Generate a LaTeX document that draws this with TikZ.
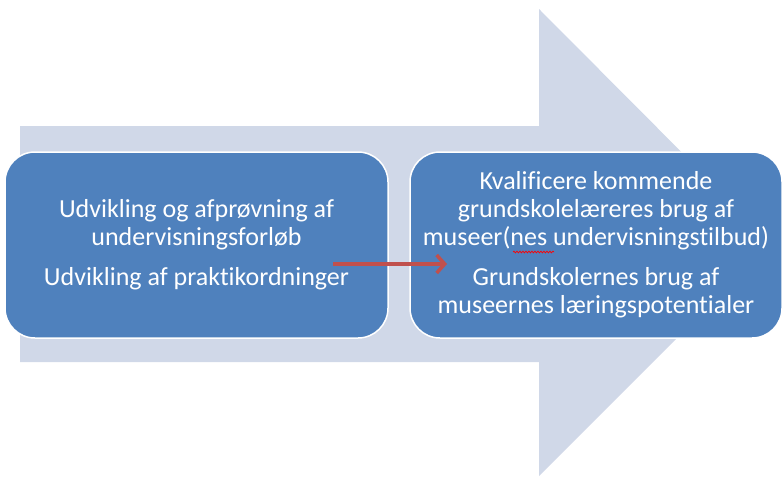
\documentclass[tikz,border=0pt]{standalone}
\usepackage{fontspec}
\setmainfont[Ligatures=NoCommon]{Carlito}
\usepackage{tikz}
\usetikzlibrary{arrows.meta,decorations.pathmorphing}

\definecolor{bandgray}{HTML}{D0D8E8}
\definecolor{boxblue}{HTML}{4F81BD}
\definecolor{linkred}{HTML}{C0504D}

\tikzset{
  stepbox/.style={draw=white, line width=1.5pt, fill=boxblue, rounded corners=30pt,
                  minimum width=383pt, minimum height=186pt, text=white,
                  align=center, font=\fontsize{26}{28}\selectfont},
  redlink/.style={linkred, line width=3.5pt, -{Straight Barb[length=8pt,width=18pt]}},
}

\begin{document}
\begin{tikzpicture}[x=1pt,y=-1pt]

        \useasboundingbox (0,0) rectangle (783,477);

        % big background arrow
        \fill[bandgray] (20,126) -- (539,126) -- (539,9) -- (772,243)
                        -- (539,476) -- (539,362) -- (20,362) -- cycle;

        \node[stepbox]  (L) at (196.5,245)  {Udvikling og afprøvning af\\
                                             undervisningsforløb\\[12pt]
                                             Udvikling af praktikordninger};
        \node[stepbox, minimum width=372pt]
                        (R) at (596,245)    {Kvalificere kommende\\
                                             grundskolelæreres brug af\\
                                             museer(nes undervisningstilbud)\\[12pt]
                                             Grundskolernes brug af\\
                                             museernes læringspotentialer};

        \coordinate (a1) at (333,264);
        \coordinate (a2) at (447,264);
        \draw[redlink] (a1) -- (a2);

        % spelling squiggle
        \coordinate (s1) at (513,252);
        \coordinate (s2) at (554,252);
        \draw[red, line width=0.7pt, decorate,
              decoration={snake, amplitude=0.9pt, segment length=3pt}] (s1) -- (s2);

\end{tikzpicture}
\end{document}
